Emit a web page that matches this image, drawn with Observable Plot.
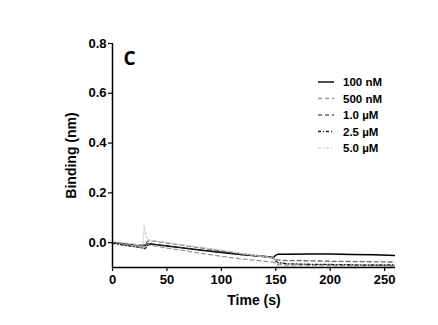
<!DOCTYPE html>
<html><head><meta charset="utf-8">
<script src="https://cdn.jsdelivr.net/npm/d3@7"></script>
<script src="https://cdn.jsdelivr.net/npm/@observablehq/plot@0.6"></script>
<style>
body{margin:0;background:#fff;}
#chart{position:relative;width:438px;height:325px;}
</style>
</head><body><div id="chart"></div>
<script>
const seriesNames = ["100 nM","500 nM","1.0 µM","2.5 µM","5.0 µM"];
const seriesColors = ["#000000","#9a9a9a","#666666","#222222","#d0d0d0"];
const seriesDash = ["none","4,3","4,3","3,2,1,2","3,2,1,2"];
const seriesWidth = [1.4,1.3,1.3,1.3,1.3];

const t100 = [0,10,20,28,30,32,35,40,50,60,80,100,120,140,148,150,152,160,180,200,220,240,260];
const v100 = [0.0,-0.004,-0.008,-0.011,-0.012,-0.006,-0.005,-0.008,-0.014,-0.019,-0.030,-0.040,-0.049,-0.056,-0.060,-0.050,-0.047,-0.047,-0.046,-0.046,-0.048,-0.049,-0.052];

const t500 = [0,10,20,28,30,32,35,40,50,60,80,100,120,140,148,150,152,160,180,200,220,240,260];
const v500 = [0.0,-0.006,-0.012,-0.016,-0.017,-0.008,-0.010,-0.014,-0.022,-0.028,-0.042,-0.055,-0.066,-0.075,-0.079,-0.085,-0.087,-0.090,-0.091,-0.092,-0.093,-0.093,-0.094];

const t1u = [0,10,20,28,30,32,35,40,50,60,80,100,120,140,148,150,152,160,180,200,220,240,260];
const v1u = [0.002,-0.003,-0.007,-0.009,-0.010,0.005,0.008,0.005,-0.002,-0.008,-0.020,-0.033,-0.045,-0.055,-0.060,-0.068,-0.070,-0.072,-0.073,-0.075,-0.076,-0.077,-0.078];

const t25 = [0,10,20,28,30,32,35,40,50,60,80,100,120,140,148,150,152,160,180,200,220,240,260];
const v25 = [-0.002,-0.010,-0.016,-0.022,-0.024,-0.012,-0.005,-0.008,-0.012,-0.018,-0.028,-0.038,-0.048,-0.057,-0.062,-0.075,-0.080,-0.085,-0.087,-0.088,-0.089,-0.090,-0.090];

const t5u = [0,10,20,28,29,31,33,35,40,50,60,80,100,120,140,148,150,152,160,180,200,220,240,260];
const v5u = [0.005,0.0,-0.006,-0.010,0.068,0.020,0.012,0.010,0.006,0.000,-0.006,-0.018,-0.030,-0.045,-0.057,-0.062,-0.090,-0.095,-0.098,-0.099,-0.100,-0.100,-0.100,-0.100];

const xTicks = [0,50,100,150,200,250];
const yTicks = [0.0,0.2,0.4,0.6,0.8];

const allT = [t100,t500,t1u,t25,t5u];
const allV = [v100,v500,v1u,v25,v5u];
const rows = [];
allT.forEach((ts,i)=>ts.forEach((t,j)=>rows.push({series:seriesNames[i],t,v:allV[i][j]})));

const font = "'Liberation Sans', Arial, sans-serif";
const lineMarks = seriesNames.map((s,i)=>Plot.line(rows.filter(d=>d.series===s),{
  x:"t",y:"v",stroke:seriesColors[i],strokeWidth:seriesWidth[i],strokeDasharray:seriesDash[i],clip:true
}));

const plot = Plot.plot({
  width:438,height:325,
  marginLeft:112,marginRight:43,marginTop:43,marginBottom:58,
  style:{fontFamily:font,fontSize:"13px",fontWeight:"bold",background:"#fff",color:"#000"},
  x:{domain:[0,260]},
  y:{domain:[-0.1,0.8]},
  marks:[
    ...lineMarks,
    Plot.ruleX([0],{y1:-0.1,y2:0.8,stroke:"#000",strokeWidth:1.5}),
    Plot.ruleY([-0.1],{x1:0,x2:260,stroke:"#000",strokeWidth:1.5}),
    Plot.axisY({ticks:yTicks,tickFormat:d3.format(".1f"),tickSize:4,tickPadding:2,strokeWidth:1.2,fontSize:13,label:null}),
    Plot.axisY({ticks:[],label:"Binding (nm)",labelAnchor:"center",labelArrow:"none",labelOffset:46,fontSize:14}),
    Plot.axisX({ticks:xTicks,tickSize:4,tickPadding:3,strokeWidth:1.2,fontSize:13,label:null}),
    Plot.axisX({ticks:[],label:"Time (s)",labelAnchor:"center",labelArrow:"none",labelOffset:37,fontSize:14}),
    Plot.text(["C"],{frameAnchor:"top-left",dx:11,dy:8,fontSize:19,fontWeight:"bold",fontFamily:"'Open Sans', sans-serif",lineAnchor:"top"})
  ]
});
document.getElementById("chart").appendChild(plot);

// legend overlay
const svg = d3.select(plot.tagName.toLowerCase()==="svg"?plot:plot.querySelector("svg"));
const lg = svg.append("g").attr("font-family",font).attr("font-size",11.5).attr("font-weight","bold").attr("text-anchor","start");
seriesNames.forEach((s,i)=>{
  const y = 82 + i*16.5;
  lg.append("line").attr("x1",318).attr("x2",334).attr("y1",y).attr("y2",y)
    .attr("stroke",seriesColors[i]).attr("stroke-width",seriesWidth[i])
    .attr("stroke-dasharray",seriesDash[i]);
  lg.append("text").attr("x",343).attr("y",y).attr("dy","0.35em").attr("text-anchor","start").text(s);
});
</script></body></html>
